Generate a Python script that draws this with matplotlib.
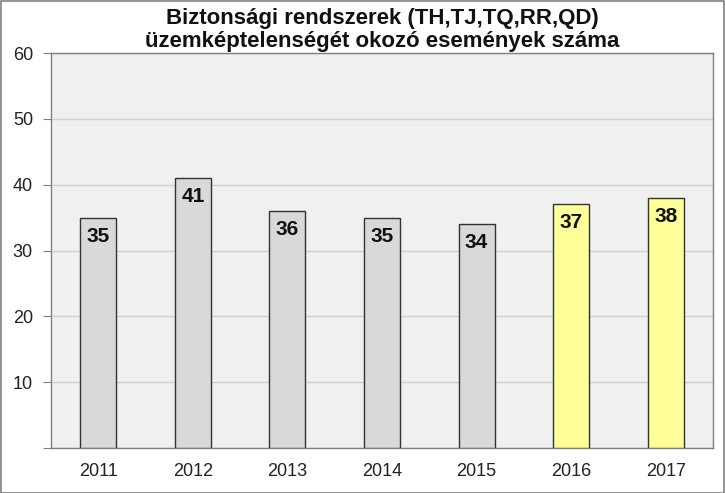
import matplotlib
matplotlib.use("Agg")
import matplotlib.pyplot as plt
from matplotlib.patches import Rectangle

years = ["2011", "2012", "2013", "2014", "2015", "2016", "2017"]
counts = [35, 41, 36, 35, 34, 37, 38]
bar_colors = ["#D9D9D9"] * 5 + ["#FFFF99"] * 2
title = "Biztonsági rendszerek (TH,TJ,TQ,RR,QD)\nüzemképtelenségét okozó események száma"

plt.rcParams['font.family'] = ['Liberation Sans', 'DejaVu Sans']

fig = plt.figure(figsize=(7.25, 4.93), dpi=100)
ax = fig.add_axes([51/725, 1 - 448/493, (713-51)/725, (448-53)/493])
ax.set_facecolor("#F0F0F0")

x = range(len(years))
bars = ax.bar(x, counts, width=0.38, color=bar_colors, edgecolor="#333333", linewidth=1.0, zorder=3)
for xi, v in zip(x, counts):
    ax.annotate(str(v), (xi, v), xytext=(0, -6.5), textcoords="offset points",
                ha="center", va="top", fontsize=15, fontweight="bold", color="#111111", zorder=4)

ax.set_xlim(-0.5, len(years) - 0.5)
ax.set_ylim(0, 60)
ax.set_yticks([0, 10, 20, 30, 40, 50, 60])
ax.set_yticklabels(["", "10", "20", "30", "40", "50", "60"])
ax.set_xticks(list(x))
ax.set_xticklabels(years)
ax.tick_params(axis="y", length=6, width=0.8, color="#808080", labelsize=13, labelcolor="#222222", pad=7)
ax.tick_params(axis="x", length=0, labelsize=13, labelcolor="#222222", pad=11)
ax.grid(axis="y", color="#D0D0D0", linewidth=1.0, zorder=0)
for s in ax.spines.values():
    s.set_color("#808080")
    s.set_linewidth(1.0)

fig.text(382/725, 1 - 30/493, title, ha="center", va="center", fontsize=16,
         fontweight="bold", color="#111111", linespacing=1.1)

fig.patches.append(Rectangle((0.001, 0.001), 0.997, 0.996, transform=fig.transFigure,
                             fill=False, edgecolor="#808080", linewidth=1.2))

fig.savefig("out.png", dpi=100)
